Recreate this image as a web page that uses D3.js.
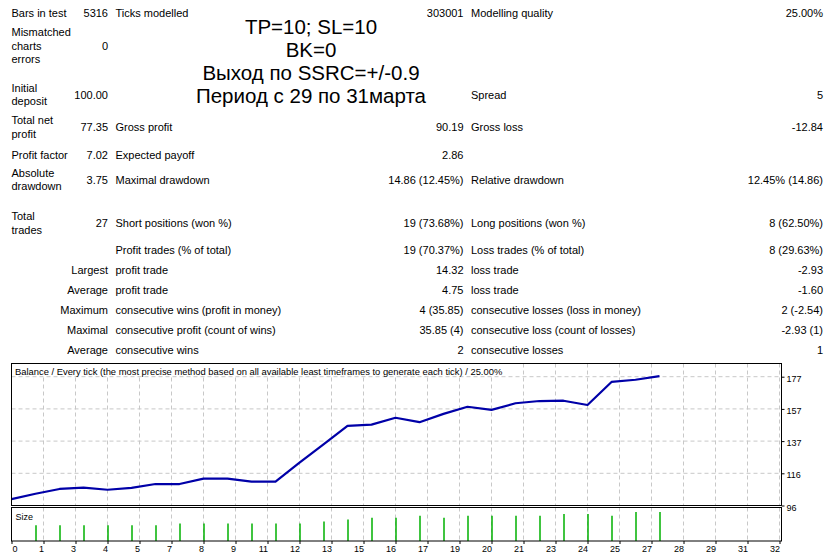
<!DOCTYPE html>
<html>
<head>
<meta charset="utf-8">
<script src="https://cdn.jsdelivr.net/npm/d3@7"></script>
<style>
  html, body { margin: 0; padding: 0; background: #fff; }
  svg { display: block; }
  text { font-family: "Liberation Sans", Arial, sans-serif; fill: #000; }
</style>
</head>
<body>
<svg id="chart" width="837" height="556"></svg>
<script>
// ---- report text ----
const titleLines = ['TP=10; SL=10', 'BK=0', 'Выход по SSRC=+/-0.9', 'Период с 29 по 31марта'];

const reportLabels1 = ['Bars in test', 'Mismatched\ncharts\nerrors', 'Initial\ndeposit', 'Total net\nprofit', 'Profit factor',
  'Absolute\ndrawdown', 'Total\ntrades', '', '', '', '', '', ''];
const reportValues1 = ['5316', '0', '100.00', '77.35', '7.02', '3.75', '27', '',
  'Largest', 'Average', 'Maximum', 'Maximal', 'Average'];
const reportLabels2 = ['Ticks modelled', '', '', 'Gross profit', 'Expected payoff', 'Maximal drawdown',
  'Short positions (won %)', 'Profit trades (% of total)', 'profit trade', 'profit trade',
  'consecutive wins (profit in money)', 'consecutive profit (count of wins)', 'consecutive wins'];
const reportValues2 = ['303001', '', '', '90.19', '2.86', '14.86 (12.45%)', '19 (73.68%)', '19 (70.37%)',
  '14.32', '4.75', '4 (35.85)', '35.85 (4)', '2'];
const reportLabels3 = ['Modelling quality', '', 'Spread', 'Gross loss', '', 'Relative drawdown',
  'Long positions (won %)', 'Loss trades (% of total)', 'loss trade', 'loss trade',
  'consecutive losses (loss in money)', 'consecutive loss (count of losses)', 'consecutive losses'];
const reportValues3 = ['25.00%', '', '5', '-12.84', '', '12.45% (14.86)', '8 (62.50%)', '8 (29.63%)',
  '-2.93', '-1.60', '2 (-2.54)', '-2.93 (1)', '1'];

// ---- balance chart ----
const chartTitle = 'Balance / Every tick (the most precise method based on all available least timeframes to generate each tick) / 25.00%';
// balance after each trade, trade 0 = initial deposit
const balance = [100.00, 103.4, 106.4, 107.2, 105.9, 107.1, 109.5, 109.5, 112.9, 112.9, 111.0, 111.0,
  122.9, 134.4, 146.1, 146.85, 151.2, 148.4, 153.6, 158.1, 156.1, 160.3, 161.7, 161.9, 159.2, 173.7, 175.1, 177.35];
// lot size of trades 1..27
const lotSize = [0.10, 0.10, 0.10, 0.10, 0.10, 0.10, 0.11, 0.11, 0.11, 0.11, 0.11, 0.11, 0.12, 0.13,
  0.14, 0.14, 0.15, 0.14, 0.15, 0.15, 0.15, 0.15, 0.16, 0.16, 0.15, 0.17, 0.17];
const yTicks = [96, 116.25, 136.5, 156.75, 177];
const yTickLabels = ['96', '116', '137', '157', '177'];
const xTickLabels = ['0', '1', '3', '4', '5', '7', '8', '9', '11', '12', '13', '15', '16', '17', '19', '20',
  '21', '23', '24', '25', '27', '28', '29', '31', '32'];

const svg = d3.select('#chart');

// report table
const rowY = [17, 49.5, 98.5, 131, 158.5, 183.5, 227, 253.5, 273.5, 293.5, 313.5, 333.5, 353.5];
const lineGap = 13.3;
const table = svg.append('g').style('font-size', '11px');

function cell(str, x, y, anchor) {
  if (!str) return;
  const lines = str.split('\n');
  const t = table.append('text').attr('text-anchor', anchor);
  lines.forEach((s, i) => {
    t.append('tspan').attr('x', x).attr('y', y + (i - (lines.length - 1) / 2) * lineGap).text(s);
  });
}

rowY.forEach((y, i) => {
  cell(reportLabels1[i], 11.5, y, 'start');
  cell(reportValues1[i], 108, y, 'end');
  cell(reportLabels2[i], 115.5, y, 'start');
  cell(reportValues2[i], 463.5, y, 'end');
  cell(reportLabels3[i], 471, y, 'start');
  cell(reportValues3[i], 823, y, 'end');
});

svg.append('g').selectAll('text')
  .data(titleLines)
  .join('text')
  .attr('x', 311)
  .attr('y', (d, i) => 33.5 + i * 23.3)
  .attr('text-anchor', 'middle')
  .style('font-size', '20.5px')
  .text(d => d);

// chart geometry
const left = 11.5, right = 781.5;
const mainTop = 363.5, mainBottom = 505.5;
const sizeTop = 507.5, sizeBottom = 541;

const x = d3.scaleLinear().domain([0, 32]).range([11.5, 779.5]);
const xGrid = d3.scaleLinear().domain([0, xTickLabels.length - 1]).range(x.range());
const y = d3.scaleLinear().domain([96, 177]).range([mainBottom, 376.7]);
const ySize = d3.scaleLinear().domain([0, d3.max(lotSize)]).range([sizeBottom + 3.3, 512]);

const gridIdx = d3.range(1, xTickLabels.length);
const gridColor = '#c8c8c8';

// vertical grid, both panels
[[mainTop, mainBottom], [sizeTop, sizeBottom]].forEach(([t, b]) => {
  svg.append('g').selectAll('line')
    .data(gridIdx)
    .join('line')
    .attr('x1', d => xGrid(d)).attr('x2', d => xGrid(d))
    .attr('y1', t).attr('y2', b)
    .attr('stroke', gridColor)
    .attr('stroke-dasharray', '4,3');
});

// horizontal grid
svg.append('g').selectAll('line')
  .data(yTicks.slice(1))
  .join('line')
  .attr('x1', left).attr('x2', right)
  .attr('y1', d => y(d)).attr('y2', d => y(d))
  .attr('stroke', gridColor)
  .attr('stroke-dasharray', '4,3');

// chart title with white background
const titleText = svg.append('text')
  .attr('x', 15)
  .attr('y', 375)
  .style('font-size', '9.4px')
  .text(chartTitle);
const bb = titleText.node().getBBox();
svg.insert('rect', () => titleText.node())
  .attr('x', bb.x - 1).attr('y', mainTop + 0.5)
  .attr('width', bb.width + 2).attr('height', 376 - mainTop - 0.5)
  .attr('fill', '#fff');

// balance line
svg.append('path')
  .datum(balance)
  .attr('fill', 'none')
  .attr('stroke', '#0000a8')
  .attr('stroke-width', 2.2)
  .attr('stroke-linejoin', 'round')
  .attr('d', d3.line().x((d, i) => x(i)).y(d => y(d)));

// lot size bars
svg.append('g').selectAll('line')
  .data(lotSize)
  .join('line')
  .attr('x1', (d, i) => x(i + 1) + 0.5).attr('x2', (d, i) => x(i + 1) + 0.5)
  .attr('y1', sizeBottom).attr('y2', d => ySize(d))
  .attr('stroke', '#00b000')
  .attr('stroke-width', 1.5);

svg.append('text')
  .attr('x', 15.5).attr('y', 520)
  .style('font-size', '9px')
  .text('Size');

// panel borders
svg.append('rect')
  .attr('x', left).attr('y', mainTop)
  .attr('width', right - left).attr('height', mainBottom - mainTop)
  .attr('fill', 'none').attr('stroke', '#000');
svg.append('rect')
  .attr('x', left).attr('y', sizeTop)
  .attr('width', right - left).attr('height', sizeBottom - sizeTop)
  .attr('fill', 'none').attr('stroke', '#000');

// axes
const yAxis = svg.append('g')
  .attr('transform', `translate(${right},0)`)
  .call(d3.axisRight(y).tickValues(yTicks).tickSize(3).tickPadding(2)
    .tickFormat((d, i) => yTickLabels[i]));
yAxis.select('.domain').remove();
yAxis.selectAll('text')
  .attr('dy', null).attr('y', 4.5)
  .style('font-size', '9px').style('font-family', '"Liberation Sans", Arial, sans-serif');

const xAxis = svg.append('g')
  .attr('transform', `translate(0,${sizeBottom})`)
  .call(d3.axisBottom(xGrid).tickValues(d3.range(xTickLabels.length)).tickSize(3)
    .tickFormat((d, i) => xTickLabels[i]));
xAxis.select('.domain').remove();
xAxis.selectAll('text')
  .attr('dy', null).attr('y', 11)
  .attr('text-anchor', d => d === 0 ? 'start' : 'end')
  .attr('x', d => d === 0 ? 0.5 : 0)
  .style('font-size', '9px').style('font-family', '"Liberation Sans", Arial, sans-serif');
</script>
</body>
</html>
